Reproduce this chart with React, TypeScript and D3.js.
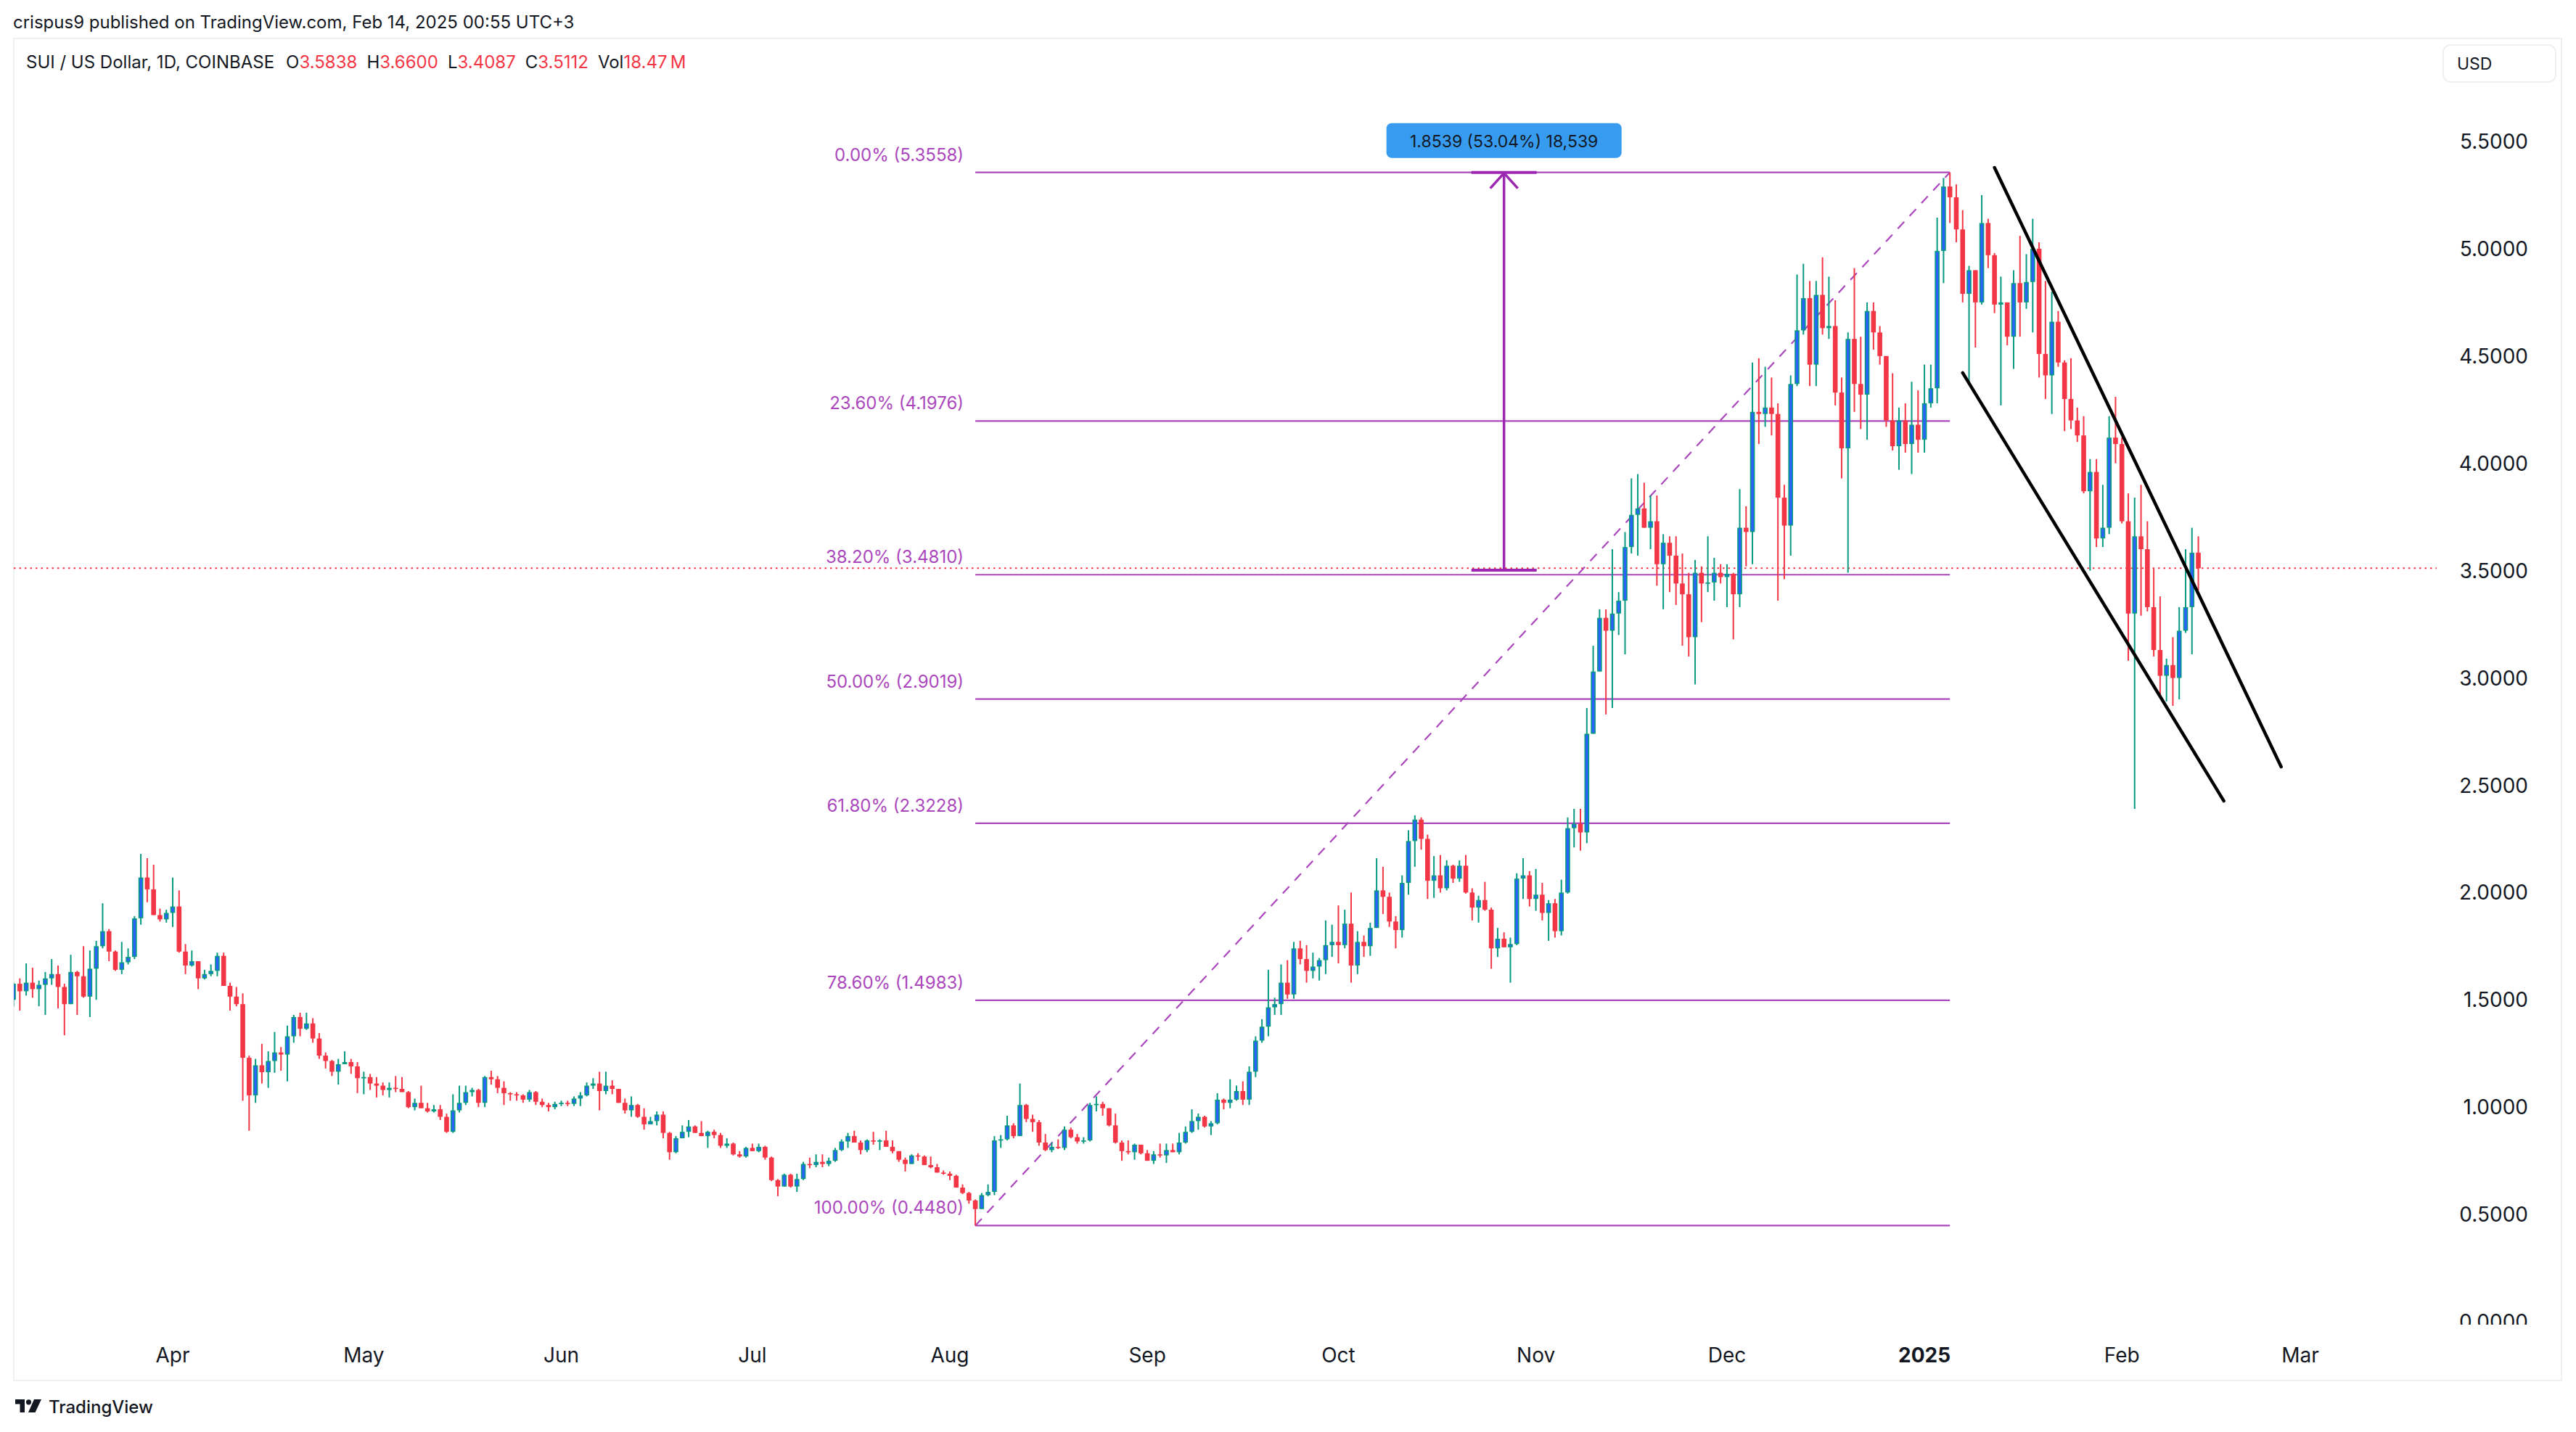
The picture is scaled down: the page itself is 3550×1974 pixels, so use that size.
import React from 'react';
import * as d3 from 'd3';

// SUI / USD daily candles, first candle is 2024-03-07.
// open of every candle = close of the candle before (crypto trades 24/7)
const firstDay = '2024-03-07';
const firstOpen = 1.5;

const marClose = [1.575, 1.54, 1.58, 1.55, 1.57, 1.6, 1.62, 1.56, 1.48, 1.63, 1.61, 1.515, 1.645, 1.75, 1.82, 1.725, 1.64, 1.675, 1.7, 1.88, 2.07, 2.015, 1.895, 1.875, 1.905];
const marHigh = [1.58, 1.6, 1.67, 1.65, 1.59, 1.63, 1.69, 1.66, 1.575, 1.71, 1.635, 1.75, 1.73, 1.775, 1.95, 1.83, 1.73, 1.77, 1.74, 1.89, 2.18, 2.16, 2.13, 1.925, 1.92];
const marLow = [1.47, 1.45, 1.52, 1.51, 1.47, 1.43, 1.57, 1.46, 1.335, 1.48, 1.43, 1.51, 1.42, 1.5, 1.74, 1.68, 1.635, 1.62, 1.665, 1.69, 1.85, 1.955, 1.895, 1.865, 1.86];

const aprClose = [1.935, 1.725, 1.66, 1.68, 1.6, 1.62, 1.635, 1.705, 1.565, 1.515, 1.48, 1.23, 1.055, 1.195, 1.163, 1.215, 1.255, 1.245, 1.33, 1.42, 1.365, 1.39, 1.32, 1.24, 1.215, 1.165, 1.2, 1.21, 1.19, 1.135];
const aprHigh = [2.07, 2.01, 1.76, 1.73, 1.68, 1.64, 1.665, 1.72, 1.72, 1.58, 1.56, 1.53, 1.24, 1.225, 1.295, 1.26, 1.35, 1.28, 1.38, 1.43, 1.44, 1.44, 1.415, 1.345, 1.255, 1.22, 1.225, 1.26, 1.225, 1.21];
const aprLow = [1.84, 1.72, 1.62, 1.655, 1.55, 1.595, 1.61, 1.61, 1.565, 1.45, 1.47, 1.03, 0.89, 1.02, 1.11, 1.09, 1.16, 1.17, 1.12, 1.3, 1.33, 1.36, 1.3, 1.225, 1.18, 1.145, 1.105, 1.2, 1.155, 1.065];

const mayClose = [1.14, 1.11, 1.1, 1.08, 1.09, 1.085, 1.07, 1.0, 1.02, 0.995, 0.98, 0.99, 0.955, 0.885, 0.985, 1.02, 1.07, 1.08, 1.02, 1.14, 1.13, 1.09, 1.065, 1.06, 1.055, 1.035, 1.07, 1.025, 1.01, 1.0, 1.015];
const mayHigh = [1.165, 1.155, 1.14, 1.115, 1.115, 1.145, 1.14, 1.075, 1.04, 1.1, 1.02, 1.01, 1.01, 0.97, 1.06, 1.1, 1.1, 1.09, 1.085, 1.145, 1.17, 1.145, 1.12, 1.07, 1.07, 1.06, 1.08, 1.075, 1.04, 1.02, 1.025];
const mayLow = [1.06, 1.08, 1.045, 1.055, 1.045, 1.07, 1.07, 0.995, 0.985, 0.995, 0.975, 0.975, 0.94, 0.88, 0.88, 0.975, 1.01, 1.05, 1.0, 1.0, 1.105, 1.065, 1.01, 1.03, 1.03, 1.02, 1.025, 1.01, 1.0, 0.98, 0.99];

const junClose = [1.02, 1.015, 1.04, 1.055, 1.1, 1.11, 1.075, 1.1, 1.085, 1.02, 0.985, 1.01, 0.955, 0.92, 0.935, 0.965, 0.88, 0.79, 0.855, 0.885, 0.91, 0.88, 0.865, 0.885, 0.87, 0.82, 0.83, 0.78, 0.77, 0.81];
const junHigh = [1.03, 1.03, 1.05, 1.07, 1.115, 1.135, 1.165, 1.165, 1.125, 1.085, 1.04, 1.05, 1.015, 0.995, 0.955, 0.98, 0.98, 0.885, 0.865, 0.915, 0.94, 0.915, 0.935, 0.89, 0.895, 0.88, 0.855, 0.835, 0.795, 0.815];
const junLow = [1.005, 1.005, 1.005, 1.005, 1.05, 1.085, 0.985, 1.06, 1.06, 1.02, 0.97, 0.955, 0.95, 0.895, 0.92, 0.915, 0.855, 0.755, 0.785, 0.855, 0.86, 0.88, 0.865, 0.81, 0.855, 0.81, 0.81, 0.775, 0.765, 0.765];

const julClose = [0.795, 0.815, 0.765, 0.66, 0.63, 0.685, 0.63, 0.665, 0.735, 0.73, 0.745, 0.735, 0.75, 0.8, 0.84, 0.865, 0.835, 0.8, 0.845, 0.84, 0.845, 0.815, 0.795, 0.755, 0.735, 0.775, 0.77, 0.73, 0.72, 0.695, 0.69];
const julHigh = [0.83, 0.83, 0.82, 0.77, 0.665, 0.69, 0.69, 0.69, 0.745, 0.765, 0.78, 0.78, 0.765, 0.81, 0.85, 0.88, 0.89, 0.845, 0.85, 0.885, 0.85, 0.89, 0.845, 0.795, 0.765, 0.78, 0.785, 0.775, 0.77, 0.735, 0.705];
const julLow = [0.795, 0.79, 0.755, 0.655, 0.585, 0.63, 0.625, 0.605, 0.66, 0.715, 0.72, 0.72, 0.725, 0.745, 0.795, 0.81, 0.835, 0.78, 0.79, 0.825, 0.8, 0.815, 0.785, 0.745, 0.7, 0.735, 0.75, 0.73, 0.715, 0.695, 0.685];

const augClose = [0.68, 0.625, 0.6, 0.565, 0.525, 0.59, 0.605, 0.845, 0.85, 0.915, 0.865, 1.01, 0.945, 0.93, 0.835, 0.8, 0.815, 0.81, 0.895, 0.86, 0.84, 0.845, 1.01, 1.015, 0.995, 0.915, 0.835, 0.795, 0.79, 0.825, 0.785];
const augHigh = [0.7, 0.685, 0.64, 0.605, 0.57, 0.6, 0.64, 0.865, 0.87, 0.96, 0.925, 1.11, 1.015, 0.965, 0.94, 0.875, 0.835, 0.85, 0.91, 0.905, 0.875, 0.86, 1.02, 1.05, 1.025, 0.995, 0.97, 0.845, 0.845, 0.83, 0.825];
const augLow = [0.66, 0.625, 0.595, 0.55, 0.448, 0.525, 0.585, 0.59, 0.81, 0.845, 0.855, 0.865, 0.93, 0.885, 0.82, 0.795, 0.79, 0.805, 0.8, 0.855, 0.83, 0.83, 0.84, 0.98, 0.96, 0.91, 0.83, 0.75, 0.78, 0.755, 0.78];

const sepClose = [0.75, 0.78, 0.775, 0.8, 0.79, 0.835, 0.885, 0.935, 0.955, 0.91, 0.925, 1.035, 1.02, 1.035, 1.075, 1.035, 1.165, 1.31, 1.375, 1.465, 1.48, 1.58, 1.525, 1.74, 1.69, 1.635, 1.655, 1.685, 1.755, 1.77];
const sepHigh = [0.8, 0.795, 0.83, 0.83, 0.83, 0.88, 0.91, 0.99, 0.97, 0.96, 0.935, 1.065, 1.04, 1.13, 1.1, 1.12, 1.19, 1.33, 1.41, 1.64, 1.51, 1.665, 1.685, 1.77, 1.775, 1.755, 1.72, 1.695, 1.87, 1.85];
const sepLow = [0.75, 0.735, 0.765, 0.74, 0.79, 0.78, 0.83, 0.88, 0.895, 0.905, 0.87, 0.92, 0.99, 0.995, 1.03, 1.01, 1.01, 1.14, 1.3, 1.33, 1.43, 1.43, 1.505, 1.505, 1.665, 1.58, 1.6, 1.59, 1.62, 1.7];

const octClose = [1.755, 1.855, 1.66, 1.77, 1.75, 1.835, 2.01, 1.98, 1.865, 1.825, 2.045, 2.24, 2.34, 2.25, 2.055, 2.08, 2.02, 2.125, 2.065, 2.125, 2.0, 1.93, 1.965, 1.92, 1.74, 1.785, 1.745, 1.76, 2.065, 2.08, 1.97];
const octHigh = [1.94, 1.92, 2.0, 1.82, 1.8, 1.86, 2.16, 2.12, 2.0, 1.89, 2.08, 2.29, 2.36, 2.35, 2.27, 2.17, 2.175, 2.15, 2.13, 2.15, 2.175, 2.02, 1.985, 2.05, 1.93, 1.835, 1.815, 1.79, 2.09, 2.16, 2.1];
const octLow = [1.67, 1.74, 1.58, 1.62, 1.7, 1.705, 1.835, 1.9, 1.84, 1.74, 1.79, 1.99, 2.12, 2.2, 1.97, 1.975, 2.0, 2.01, 2.045, 2.05, 1.995, 1.87, 1.86, 1.915, 1.645, 1.7, 1.745, 1.58, 1.755, 1.97, 1.935];

const novClose = [1.99, 1.905, 1.95, 1.82, 2.0, 2.3, 2.32, 2.28, 2.74, 3.03, 3.28, 3.22, 3.3, 3.36, 3.61, 3.76, 3.79, 3.7, 3.73, 3.53, 3.63, 3.57, 3.44, 3.39, 3.19, 3.49, 3.44, 3.445, 3.49, 3.47];
const novHigh = [2.11, 2.045, 1.965, 1.97, 2.06, 2.35, 2.39, 2.39, 2.86, 3.15, 3.32, 3.32, 3.6, 3.4, 3.68, 3.93, 3.95, 3.91, 3.85, 3.85, 3.67, 3.66, 3.66, 3.58, 3.49, 3.55, 3.52, 3.66, 3.56, 3.53];
const novLow = [1.915, 1.87, 1.775, 1.79, 1.8, 1.995, 2.21, 2.195, 2.23, 2.74, 3.03, 2.83, 2.86, 3.2, 3.11, 3.58, 3.57, 3.7, 3.6, 3.43, 3.32, 3.4, 3.34, 3.15, 3.1, 2.97, 3.26, 3.4, 3.36, 3.44];

const decClose = [3.485, 3.39, 3.7, 3.68, 4.24, 4.23, 4.26, 4.23, 3.84, 3.71, 4.37, 4.62, 4.77, 4.46, 4.785, 4.63, 4.64, 4.33, 4.07, 4.58, 4.37, 4.32, 4.71, 4.61, 4.5, 4.2, 4.08, 4.2, 4.09, 4.18, 4.11];
const decHigh = [3.53, 3.49, 3.88, 3.8, 4.47, 4.49, 4.45, 4.4, 4.28, 3.9, 4.41, 4.88, 4.93, 4.85, 4.85, 4.96, 4.87, 4.76, 4.4, 4.61, 4.91, 4.59, 4.75, 4.75, 4.64, 4.5, 4.42, 4.26, 4.28, 4.38, 4.34];
const decLow = [3.33, 3.18, 3.33, 3.52, 3.53, 4.09, 4.17, 4.13, 3.36, 3.46, 3.57, 4.36, 4.6, 4.36, 4.36, 4.6, 4.58, 4.27, 3.93, 3.49, 4.24, 4.16, 4.11, 4.53, 4.46, 4.17, 4.06, 3.97, 4.05, 3.95, 4.05];

const janClose = [4.28, 4.35, 4.99, 5.29, 5.24, 5.09, 4.79, 4.9, 4.75, 5.12, 4.97, 4.74, 4.75, 4.59, 4.84, 4.75, 4.845, 5.0, 4.51, 4.41, 4.66, 4.47, 4.3, 4.2, 4.13, 3.87, 3.96, 3.65, 3.7, 4.12, 4.09];
const janHigh = [4.46, 4.46, 5.145, 5.33, 5.3558, 5.3, 5.18, 4.92, 4.9, 5.25, 5.14, 4.98, 4.87, 4.75, 4.9, 5.06, 4.975, 5.14, 5.03, 4.85, 4.8, 4.71, 4.48, 4.49, 4.26, 4.22, 4.02, 4.02, 3.9, 4.22, 4.31];
const janLow = [4.05, 4.26, 4.28, 4.84, 5.12, 5.03, 4.75, 4.38, 4.54, 4.74, 4.91, 4.7, 4.27, 4.55, 4.44, 4.59, 4.72, 4.61, 4.4, 4.3, 4.23, 4.45, 4.15, 4.16, 4.1, 3.86, 3.5, 3.61, 3.61, 3.67, 4.0];

const febClose = [3.73, 3.3, 3.66, 3.6, 3.33, 3.13, 3.01, 3.06, 3.0, 3.22, 3.33, 3.5838, 3.5112];
const febHigh = [4.12, 3.86, 3.84, 3.9, 3.73, 3.51, 3.38, 3.09, 3.19, 3.33, 3.6, 3.7, 3.66];
const febLow = [3.72, 3.08, 2.39, 3.29, 3.31, 3.1, 2.91, 2.89, 2.87, 2.9, 3.21, 3.11, 3.4087];

const closes = [...marClose, ...aprClose, ...mayClose, ...junClose, ...julClose, ...augClose, ...sepClose, ...octClose, ...novClose, ...decClose, ...janClose, ...febClose];
const highs = [...marHigh, ...aprHigh, ...mayHigh, ...junHigh, ...julHigh, ...augHigh, ...sepHigh, ...octHigh, ...novHigh, ...decHigh, ...janHigh, ...febHigh];
const lows = [...marLow, ...aprLow, ...mayLow, ...junLow, ...julLow, ...augLow, ...sepLow, ...octLow, ...novLow, ...decLow, ...janLow, ...febLow];

// axis ticks
const priceTicks = [0, 0.5, 1, 1.5, 2, 2.5, 3, 3.5, 4, 4.5, 5, 5.5];
const monthTicks = [
  { label: 'Apr', date: '2024-04-01' },
  { label: 'May', date: '2024-05-01' },
  { label: 'Jun', date: '2024-06-01' },
  { label: 'Jul', date: '2024-07-01' },
  { label: 'Aug', date: '2024-08-01' },
  { label: 'Sep', date: '2024-09-01' },
  { label: 'Oct', date: '2024-10-01' },
  { label: 'Nov', date: '2024-11-01' },
  { label: 'Dec', date: '2024-12-01' },
  { label: '2025', date: '2025-01-01', bold: true },
  { label: 'Feb', date: '2025-02-01' },
  { label: 'Mar', date: '2025-03-01' },
];

// fibonacci retracement drawing
const fibLevels = [0, 0.236, 0.382, 0.5, 0.618, 0.786, 1];
const fibLow = { date: '2024-08-05', price: 0.448 };
const fibHigh = { date: '2025-01-05', price: 5.3558 };

// price range (measure) drawing
const measure = { date: '2024-10-27', from: 3.5019, to: 5.3558, label: '1.8539 (53.04%) 18,539' };

// descending channel
const upperLine = [{ date: '2025-01-12', price: 5.378 }, { date: '2025-02-26', price: 2.586 }];
const lowerLine = [{ date: '2025-01-07', price: 4.422 }, { date: '2025-02-17', price: 2.427 }];

const lastPrice = 3.5112;
const legendValues = [
  { key: 'O', value: '3.5838' },
  { key: 'H', value: '3.6600' },
  { key: 'L', value: '3.4087' },
  { key: 'C', value: '3.5112' },
  { key: 'Vol', value: '18.47\u2009M' },
];

const FONT = 'Inter, "Noto Sans", sans-serif';
const TEXT = '#131722';
const UP_WICK = '#089981';
const UP_BODY = '#2962ff';
const DOWN = '#f23645';
const FIB = '#ab47bc';
const MEASURE = '#9c27b0';

const day = (s: string) => new Date(s + 'T00:00:00Z');

export default function App() {
  const plot = { left: 19, right: 3358, top: 53, bottom: 1826 };

  const x = d3.scaleUtc().domain([day('2024-04-01'), day('2025-03-01')]).range([238, 3170]);
  const y = d3.scaleLinear().domain([0, 5.5]).range([1822, 195]);

  const start = day(firstDay);
  const candles = closes.map((c, i) => {
    const open = i === 0 ? firstOpen : closes[i - 1];
    return {
      date: d3.utcDay.offset(start, i),
      open,
      close: c,
      high: Math.max(highs[i], open, c),
      low: Math.min(lows[i], open, c),
    };
  });

  const bodyW = 6.6;
  const fibRange = fibHigh.price - fibLow.price;
  const fx1 = x(day(fibLow.date));
  const fx2 = x(day(fibHigh.date));

  const mx = x(day(measure.date));
  const myTop = y(measure.to);
  const myBot = y(measure.from);

  const line = d3
    .line<{ date: string; price: number }>()
    .x((d) => x(day(d.date)))
    .y((d) => y(d.price));

  return (
    <svg
      width={3550}
      height={1974}
      style={{ position: 'absolute', left: 0, top: 0, background: '#ffffff' }}
      fontFamily={FONT}
    >
      <defs>
        <clipPath id="plot-clip">
          <rect x={plot.left} y={plot.top} width={plot.right - plot.left} height={plot.bottom - plot.top} />
        </clipPath>
        <clipPath id="axis-clip">
          <rect x={plot.right} y={plot.top} width={3530 - plot.right} height={plot.bottom - plot.top} />
        </clipPath>
      </defs>
      <rect x={0} y={0} width={3550} height={1974} fill="#ffffff" />

      <text x={18} y={39} fontSize={24} fill={TEXT}>
        crispus9 published on TradingView.com, Feb 14, 2025 00:55 UTC+3
      </text>

      {/* chart panel */}
      <rect x={19} y={53} width={3511} height={1850} fill="none" stroke="#eff0f3" strokeWidth={2} />

      {/* legend */}
      <text x={36} y={94} fontSize={24} fill={TEXT}>
        <tspan>SUI / US Dollar, 1D, COINBASE</tspan>
        {legendValues.map((d, i) => (
          <React.Fragment key={d.key}>
            <tspan dx={i === 0 ? 16 : 13}>{d.key}</tspan>
            <tspan fill={DOWN}>{d.value}</tspan>
          </React.Fragment>
        ))}
      </text>

      {/* USD badge */}
      <rect x={3367} y={62} width={155} height={51} rx={10} fill="#ffffff" stroke="#eff0f3" strokeWidth={2} />
      <text x={3386} y={96} fontSize={23} fill={TEXT}>
        USD
      </text>

      <g clipPath="url(#plot-clip)">
        {/* current price line */}
        <line
          x1={plot.left}
          x2={plot.right}
          y1={y(lastPrice)}
          y2={y(lastPrice)}
          stroke={DOWN}
          strokeWidth={2}
          strokeDasharray="2.5 5"
        />

        {/* fib levels */}
        {fibLevels.map((lvl) => {
          const p = fibHigh.price - lvl * fibRange;
          return (
            <g key={lvl}>
              <line x1={fx1} x2={fx2} y1={y(p)} y2={y(p)} stroke={FIB} strokeWidth={2.2} />
              <text x={fx1 - 16} y={y(p) - 16} fontSize={24} fill={FIB} textAnchor="end">
                {`${(lvl * 100).toFixed(2)}% (${p.toFixed(4)})`}
              </text>
            </g>
          );
        })}
        <line
          x1={fx1}
          y1={y(fibLow.price)}
          x2={fx2}
          y2={y(fibHigh.price)}
          stroke={FIB}
          strokeWidth={2.2}
          strokeDasharray="13 11"
        />

        {/* candles */}
        {candles.map((c, i) => {
          const cx = x(c.date);
          const up = c.close >= c.open;
          const top = y(Math.max(c.open, c.close));
          const h = Math.max(1.6, y(Math.min(c.open, c.close)) - top);
          return (
            <g key={i}>
              <line x1={cx} x2={cx} y1={y(c.high)} y2={y(c.low)} stroke={up ? UP_WICK : DOWN} strokeWidth={2} />
              {up ? (
                <rect
                  x={cx - bodyW / 2 + 0.8}
                  y={top + 0.8}
                  width={bodyW - 1.6}
                  height={Math.max(0.1, h - 1.6)}
                  fill={UP_BODY}
                  stroke={UP_WICK}
                  strokeWidth={1.6}
                />
              ) : (
                <rect x={cx - bodyW / 2} y={top} width={bodyW} height={h} fill={DOWN} />
              )}
            </g>
          );
        })}

        {/* channel */}
        <path d={line(upperLine) || ''} stroke="#000000" strokeWidth={4.5} strokeLinecap="round" fill="none" />
        <path d={line(lowerLine) || ''} stroke="#000000" strokeWidth={4.5} strokeLinecap="round" fill="none" />

        {/* price range measure */}
        <line x1={mx} x2={mx} y1={myTop + 2} y2={myBot} stroke={MEASURE} strokeWidth={3.5} />
        <line x1={mx - 45} x2={mx + 45} y1={myTop} y2={myTop} stroke={MEASURE} strokeWidth={4} />
        <line x1={mx - 45} x2={mx + 45} y1={myBot} y2={myBot} stroke={MEASURE} strokeWidth={4} />
        <path
          d={`M${mx - 19},${myTop + 22} L${mx},${myTop + 1} L${mx + 19},${myTop + 22}`}
          stroke={MEASURE}
          strokeWidth={3.5}
          fill="none"
        />
        <rect x={mx - 162} y={myTop - 68} width={324} height={48} rx={7} fill="#379cf0" />
        <text x={mx} y={myTop - 35} fontSize={23} fill={TEXT} textAnchor="middle">
          {measure.label}
        </text>
      </g>

      {/* price axis */}
      <g clipPath="url(#axis-clip)">
        {priceTicks.map((v) => (
          <text key={v} x={3484} y={y(v)} dy="0.36em" fontSize={28} fill={TEXT} textAnchor="end">
            {v.toFixed(4)}
          </text>
        ))}
      </g>

      {/* time axis */}
      {monthTicks.map((m) => (
        <text
          key={m.label}
          x={x(day(m.date))}
          y={1868}
          dy="0.36em"
          fontSize={28}
          fontWeight={m.bold ? 700 : 400}
          fill={TEXT}
          textAnchor="middle"
        >
          {m.label}
        </text>
      ))}

      {/* TradingView logo */}
      <g fill={TEXT}>
        <path d="M21 1929 h13 v18 h-6.5 v-11.5 h-6.5 z" />
        <circle cx={39.5} cy={1932.8} r={3.6} />
        <path d="M47 1929 h10 l-8.5 18 h-9.5 z" />
        <text x={67} y={1948} fontSize={24} fontWeight={500}>
          TradingView
        </text>
      </g>
    </svg>
  );
}
